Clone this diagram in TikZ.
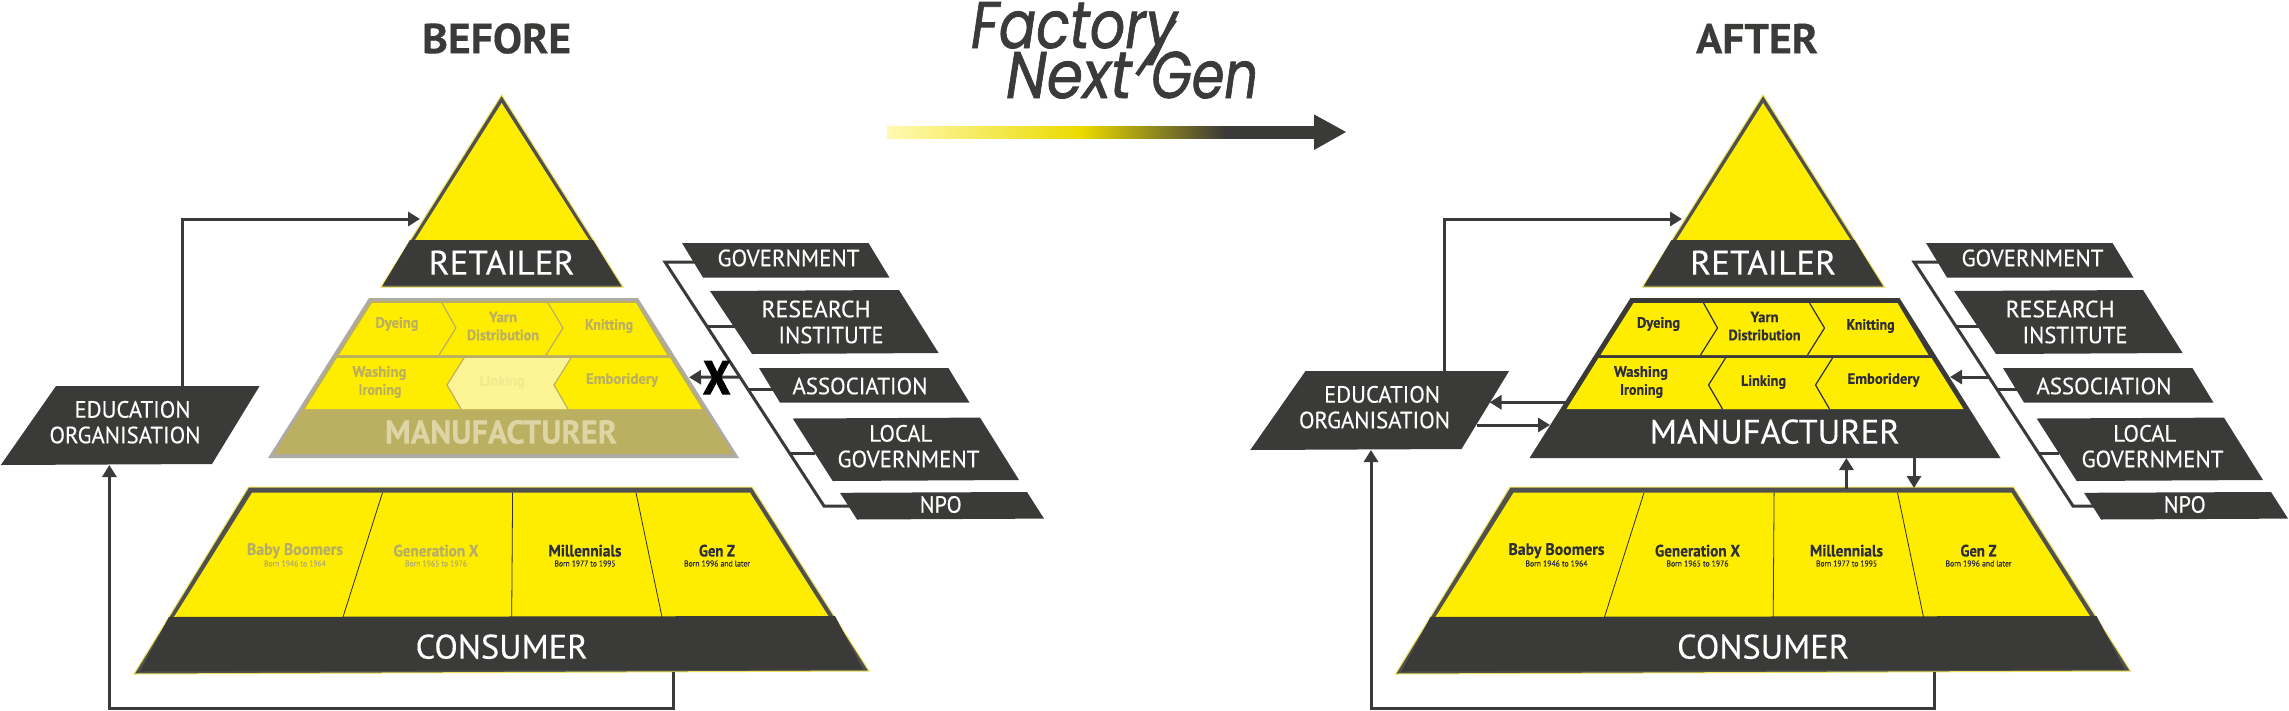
\documentclass[tikz,border=0pt]{standalone}
\usepackage{fontspec}
\usepackage{graphicx}
\usetikzlibrary{arrows.meta}
\setmainfont[FakeBold=0.35]{PT Sans}
\newfontfamily\logofont[ItalicFeatures={FakeBold=1.2}]{Poppins}
\newfontfamily\xfont[BoldFeatures={FakeBold=2.5}]{PT Sans}
\definecolor{brandY}{HTML}{FFED00}
\definecolor{darkK}{HTML}{3A3A38}
\definecolor{edgeK}{HTML}{505050}
\definecolor{inkK}{HTML}{2E2D3A}
\definecolor{olive}{HTML}{BBAF61}
\definecolor{fadeK}{HTML}{B5AE6A}
\definecolor{edgeG}{HTML}{ADABA2}
\definecolor{paleY}{HTML}{FDF496}
\definecolor{paleT}{HTML}{DDD5A3}
\definecolor{linkT}{HTML}{F3E98E}
\definecolor{edgeY}{HTML}{EFE25A}
\pgfdeclarehorizontalshading{barshade}{100bp}{
  color(0bp)=(brandY!30!white); color(25bp)=(brandY!30!white);
  color(47.8bp)=(brandY!92!black); color(64.6bp)=(darkK); color(100bp)=(darkK)}
\newcommand\fitw[2]{\resizebox{#1pt}{\height}{#2}}
\tikzset{
  conn/.style={draw=darkK,line width=3pt,line join=miter},
  tip/.style={-{Triangle[length=12pt,width=14pt]}},
  lab/.style={inner sep=0pt,outer sep=0pt,align=center},
  capW/.style={lab,text=white,font=\fontsize{34}{36}\selectfont},
  boxW/.style={lab,text=white,font=\fontsize{23.5}{26}\selectfont},
  cell/.style={lab,font=\fontsize{15}{17}\selectfont\bfseries},
  gen/.style={lab,font=\fontsize{16.5}{18}\selectfont\bfseries},
  born/.style={lab,font=\fontsize{8.5}{10}\selectfont},
  title/.style={lab,text=darkK,font=\fontsize{42}{46}\selectfont\bfseries},
  logo/.style={lab,text=darkK,font=\fontsize{66}{70}\selectfont\logofont\itshape},
  darkbox/.style={fill=darkK,draw=none}
}
% #1 prefix, #2 xshift
\newcommand\pyramid[2]{%
\begin{scope}[xshift=#2pt]
  % retailer
  \path[fill=edgeK,draw=edgeY,line width=1pt] (501.6,95)--(623,287)--(381,287)--cycle;
  \fill[brandY] (501.6,103)--(589,240)--(415,240)--cycle;
  \fill[darkK] (410,240)--(593,240)--(620,285)--(383,285)--cycle;
  \node[capW] (#1-retailer) at (501.6,262.5) {\fitw{146}{RETAILER}};
  % manufacturer
  \fill[mfrEdge] (369,298)--(638,298)--(739,458)--(268,458)--cycle;
  \fill[mfrFill] (371,301)--(636,301)--(733,454)--(274,454)--cycle;
  \fill[brandY] (372,303)--(636,303)--(667,355)--(339,355)--cycle;
  \fill[brandY] (337,358)--(670,358)--(702,409)--(305,409)--cycle;
  \fill[linkFill] (464,358)--(571,358)--(554,385)--(568,409)--(461,409)--(447,385)--cycle;
  \draw[mfrLine,line width=1.2pt] (442,303)--(456,328)--(439,355);
  \draw[mfrLine,line width=1.2pt] (548,303)--(563,328)--(546,355);
  \draw[mfrLine,line width=1.2pt] (464,358)--(447,385)--(461,409);
  \draw[mfrLine,line width=1.2pt] (571,358)--(554,385)--(568,409);
  \node[cell,text=cellT] (#1-dyeing) at (397,324) {\fitw{43}{Dyeing}};
  \node[cell,text=cellT] (#1-yarn) at (503,317) {\fitw{28}{Yarn}};
  \node[cell,text=cellT] (#1-dist) at (503,335) {\fitw{72}{Distribution}};
  \node[cell,text=cellT] (#1-knit) at (609,326) {\fitw{48}{Knitting}};
  \node[cell,text=cellT] (#1-wash) at (379.5,373) {\fitw{54}{Washing}};
  \node[cell,text=cellT] (#1-iron) at (380,391) {\fitw{43}{Ironing}};
  \node[cell,text=linkText] (#1-link) at (502,382) {\fitw{45}{Linking}};
  \node[cell,text=cellT] (#1-emb) at (622,380) {\fitw{72}{Emboridery}};
  % consumer
  \path[fill=edgeK,draw=edgeY,line width=1pt] (248.6,487)--(752,487)--(869,671)--(134,674)--cycle;
  \fill[brandY] (252,492.7)--(750,492.7)--(829,617)--(174,617)--cycle;
  \fill[darkK] (169,617)--(835,616)--(863,669.5)--(140,671.5)--cycle;
  \draw[inkK,line width=.8pt] (382.5,492.7)--(343,617);
  \draw[inkK,line width=.8pt] (512.6,492.7)--(511.7,617);
  \draw[inkK,line width=.8pt] (636,492.7)--(662,617);
  \node[capW] (#1-consumer) at (501.6,646.7) {\fitw{172}{CONSUMER}};
  \node[gen,text=genA] (#1-boom) at (295,550.7) {\fitw{96}{Baby Boomers}};
  \node[born,text=genA] (#1-boomb) at (295,563.5) {\fitw{62}{Born 1946 to 1964}};
  \node[gen,text=genA] (#1-genx) at (436,550.7) {\fitw{85}{Generation X}};
  \node[born,text=genA] (#1-genxb) at (436,563.5) {\fitw{62}{Born 1965 to 1976}};
  \node[gen,text=inkK] (#1-mill) at (585,550.7) {\fitw{73}{Millennials}};
  \node[born,text=inkK] (#1-millb) at (585,563.5) {\fitw{61}{Born 1977 to 1995}};
  \node[gen,text=inkK] (#1-genz) at (717,550.7) {\fitw{36}{Gen Z}};
  \node[born,text=inkK] (#1-genzb) at (717,563.5) {\fitw{66}{Born 1996 and later}};
\end{scope}}
% #1 prefix, #2 xshift of boxes, #3 xshift of the bus
\newcommand\partners[3]{%
\begin{scope}[xshift=#2pt]
  \fill[darkbox] (682,243)--(868.5,243)--(889.5,277.6)--(703,277.6)--cycle;
  \fill[darkbox] (710,291)--(899,290)--(938.6,353)--(752,354)--cycle;
  \fill[darkbox] (759,368)--(948.4,368)--(969.5,402.6)--(780,402.6)--cycle;
  \fill[darkbox] (792.7,418.5)--(980,417.6)--(1019,480)--(832.7,481)--cycle;
  \fill[darkbox] (840,492.8)--(1027,492)--(1044,518.6)--(857,519.5)--cycle;
  \node[boxW] (#1-gov) at (788.5,258) {\fitw{142}{GOVERNMENT}};
  \node[boxW] (#1-res) at (816,309) {\fitw{109}{RESEARCH}};
  \node[boxW] (#1-inst) at (831,335) {\fitw{105}{INSTITUTE}};
  \node[boxW] (#1-assoc) at (860,386) {\fitw{135}{ASSOCIATION}};
  \node[boxW] (#1-local) at (900.7,433.4) {\fitw{63}{LOCAL}};
  \node[boxW] (#1-lgov) at (908.5,459) {\fitw{142}{GOVERNMENT}};
  \node[boxW] (#1-npo) at (940.7,504.5) {\fitw{42}{NPO}};
  \coordinate (#1-govS) at (695,262);
  \coordinate (#1-resS) at (736,326);
  \coordinate (#1-assS) at (773,389.5);
  \coordinate (#1-locS) at (815,453);
  \coordinate (#1-npoS) at (851,506);
\end{scope}
\begin{scope}[xshift=#3pt]
  \coordinate (#1-busT) at (665,262);
  \coordinate (#1-busB) at (824,506);
  \coordinate (#1-busR) at (706.7,326);
  \coordinate (#1-busA) at (748,389.5);
  \coordinate (#1-busL) at (789.5,453);
  \coordinate (#1-busM) at (740,377);
\end{scope}
\draw[conn] (#1-govS)--(#1-busT)--(#1-busB)--(#1-npoS);
\draw[conn] (#1-busR)--(#1-resS);
\draw[conn] (#1-busA)--(#1-assS);
\draw[conn] (#1-busL)--(#1-locS);}
% #1 prefix, #2 xshift, #3 yshift
\newcommand\eduorg[3]{%
\begin{scope}[xshift=#2pt,yshift=#3pt]
  \fill[darkbox] (56,386)--(259.6,386)--(212,464)--(0.8,465)--cycle;
  \node[boxW] (#1-edu) at (132.6,409.4) {\fitw{116}{EDUCATION}};
  \node[boxW] (#1-org) at (125,435) {\fitw{151}{ORGANISATION}};
\end{scope}}
\begin{document}
\begin{tikzpicture}[x=1pt,y=-1pt]
\useasboundingbox (0,0) rectangle (2289,710);
% --- before
\node[title] (tBefore) at (496.7,38.5) {\fitw{149}{BEFORE}};
\colorlet{mfrEdge}{edgeG}\colorlet{mfrFill}{olive}\colorlet{linkFill}{paleY}
\colorlet{mfrLine}{olive}\colorlet{cellT}{olive}\colorlet{linkText}{linkT}\colorlet{genA}{fadeK}
\pyramid{b}{0}
\node[capW,text=paleT,font=\fontsize{33}{36}\selectfont\bfseries] (b-mfr) at (501,432) {\fitw{232}{MANUFACTURER}};
\partners{b}{0}{0}
\eduorg{b}{0}{0}
\coordinate (b-eduTop) at (182.4,386);
\coordinate (b-retIn) at (420,219);
\coordinate (b-conOut) at (673,672);
\coordinate (b-eduIn) at (109.4,465);
\coordinate (b-mfrIn) at (689,377.3);
\draw[conn,tip] (b-eduTop)|-(b-retIn);
\draw[conn,tip] (b-conOut)--(673,708)-|(b-eduIn);
\draw[conn,tip] (b-busM)--(b-mfrIn);
\node[lab,text=black,font=\fontsize{47}{49}\selectfont\xfont\bfseries] (b-x) at (716.7,377.7) {\fitw{27}{X}};
% --- after
\node[title] (tAfter) at (1757,38.5) {\fitw{122}{AFTER}};
\colorlet{mfrEdge}{darkK}\colorlet{mfrFill}{darkK}\colorlet{linkFill}{brandY}
\colorlet{mfrLine}{inkK}\colorlet{cellT}{inkK}\colorlet{linkText}{inkK}\colorlet{genA}{inkK}
\pyramid{a}{1261.5}
\node[capW] (a-mfr) at (1774.7,431.7) {\fitw{250}{MANUFACTURER}};
\partners{a}{1244}{1249}
\eduorg{a}{1249.5}{15}
\coordinate (a-eduTop) at (1444,371);
\coordinate (a-retIn) at (1682,219);
\coordinate (a-conOut) at (1934.5,672);
\coordinate (a-eduIn) at (1371,450);
\coordinate (a-mfrIn) at (1950,377);
\coordinate (a-mL) at (1565,402.3);
\coordinate (a-eL) at (1489.6,402.3);
\coordinate (a-eR) at (1476.5,425);
\coordinate (a-mR) at (1550,425);
\coordinate (a-cU) at (1846.4,489);
\coordinate (a-mU) at (1846.4,458);
\coordinate (a-mD) at (1914,458);
\coordinate (a-cD) at (1914,488);
\draw[conn,tip] (a-eduTop)|-(a-retIn);
\draw[conn,tip] (a-conOut)--(1934.5,708)-|(a-eduIn);
\draw[conn,tip] (a-busM)--(a-mfrIn);
\draw[conn,tip] (a-mL)--(a-eL);
\draw[conn,tip] (a-eR)--(a-mR);
\draw[conn,tip] (a-cU)--(a-mU);
\draw[conn,tip] (a-mD)--(a-cD);
% --- logo
\node[logo,anchor=base west] (lFactory) at (971,48) {\fitw{206}{Factory}};
\node[logo,anchor=base west] (lNext) at (1006,98) {\fitw{126}{Next}};
\node[logo,anchor=base west] (lGen) at (1151,98) {\fitw{107}{Gen}};
\coordinate (lSlashA) at (1175,20);
\coordinate (lSlashB) at (1137,75);
\draw[darkK,line width=4.5pt] (lSlashA)--(lSlashB);
% gradient arrow
\coordinate (arrA) at (887,126);
\coordinate (arrB) at (1314,138.3);
\coordinate (arrC) at (1346,132);
\shade[shading=barshade] (arrA) rectangle (arrB);
\fill[darkK] (1314,114.4)--(arrC)--(1314,150)--cycle;
\end{tikzpicture}
\end{document}
